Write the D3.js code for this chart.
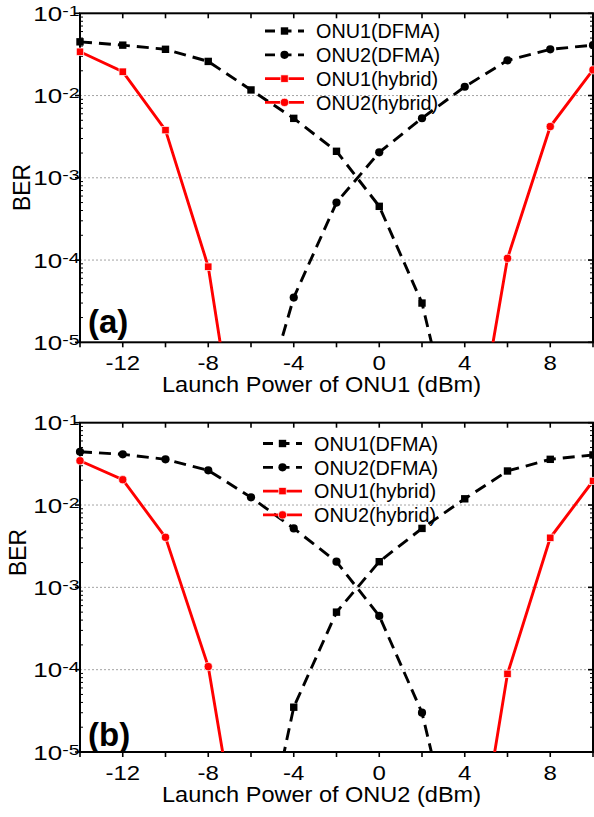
<!DOCTYPE html>
<html><head><meta charset="utf-8">
<script src="https://cdn.jsdelivr.net/npm/d3@7"></script>
<style>
body{margin:0;background:#fff}
svg{display:block}
text{font-family:"Liberation Sans",Arial,Helvetica,sans-serif;fill:#000}
</style>
</head><body>
<svg id="chart" width="594" height="817"></svg>
<script>
// ---------------- data ----------------
const xs = [-14,-12,-10,-8,-6,-4,-2,0,2,4,6,8,10];
// panel (a): launch power of ONU1
const aONU1DFMA = [0.045,0.041,0.0365,0.026,0.0117,0.00528,0.0021,0.00045,0.00003,2e-7,null,null,null];
const aONU2DFMA = [null,null,null,null,5.6e-7,3.5e-5,5.0e-4,2.04e-3,5.3e-3,0.0128,0.0268,0.0365,0.041];
const aONU1Hyb  = [0.0341,0.0195,0.0038,8.3e-5,4e-8,null,null,null,null,null,null,null,null];
const aONU2Hyb  = [null,null,null,null,null,null,null,null,null,1e-7,1.05e-4,4.2e-3,0.0205];
// panel (b): launch power of ONU2
const bONU1DFMA = [null,null,null,null,1.3e-7,3.5e-5,5.0e-4,2.05e-3,5.2e-3,0.0119,0.0259,0.0359,0.0406];
const bONU2DFMA = [0.0444,0.0413,0.0359,0.0264,0.0124,0.0052,0.00205,4.5e-4,3.0e-5,2e-7,null,null,null];
const bONU1Hyb  = [null,null,null,null,null,null,null,null,null,6e-8,8.9e-5,0.004,0.0196];
const bONU2Hyb  = [0.0345,0.0203,0.00405,1.09e-4,9e-8,null,null,null,null,null,null,null,null];

const seriesNames = ["ONU1(DFMA)","ONU2(DFMA)","ONU1(hybrid)","ONU2(hybrid)"];
const yExponents = [-1,-2,-3,-4,-5];
const gridExponents = [-2,-3,-4];
const xTickLabels = [-12,-8,-4,0,4,8];
const xTickAll = [-14,-12,-10,-8,-6,-4,-2,0,2,4,6,8,10];
const xTitles = ["Launch Power of ONU1 (dBm)","Launch Power of ONU2 (dBm)"];
const panelLetters = ["(a)","(b)"];
const yTitle = "BER";

// ---------------- layout ----------------
const panels = [
  {top:13.3, bottom:342.3, letter:panelLetters[0], letterY:333, berY:187.5, berX:30,
   legY:31, legX0:265, legX1:304, legTx:316, xTitle:xTitles[0],
   series:[
     {vals:aONU1DFMA, color:"#000", dash:true, shape:"square"},
     {vals:aONU2DFMA, color:"#000", dash:true, shape:"circle"},
     {vals:aONU1Hyb,  color:"#ff0000", dash:false, shape:"square"},
     {vals:aONU2Hyb,  color:"#ff0000", dash:false, shape:"circle"}]},
  {top:422.7, bottom:752, letter:panelLetters[1], letterY:746, berY:552.5, berX:26,
   legY:443.5, legX0:263, legX1:302, legTx:314, xTitle:xTitles[1],
   series:[
     {vals:bONU1DFMA, color:"#000", dash:true, shape:"square"},
     {vals:bONU2DFMA, color:"#000", dash:true, shape:"circle"},
     {vals:bONU1Hyb,  color:"#ff0000", dash:false, shape:"square"},
     {vals:bONU2Hyb,  color:"#ff0000", dash:false, shape:"circle"}]}
];
const L = 80, R = 593;
const svg = d3.select("#chart");

function drawMarker(g, shape, cx, cy, color){
  const red = color !== "#000";
  if(shape==="square"){
    g.append("rect").attr("x",cx-3.7).attr("y",cy-3.7).attr("width",7.4).attr("height",7.4)
     .attr("fill",color).attr("stroke",red?"#fff":"none").attr("stroke-width",0.7);
  } else {
    g.append("circle").attr("cx",cx).attr("cy",cy).attr("r",4.1)
     .attr("fill",color).attr("stroke",red?"#fff":"none").attr("stroke-width",0.7);
  }
}

panels.forEach((p,pi)=>{
  const x = d3.scaleLinear().domain([-14,10]).range([L,R]);
  const y = d3.scaleLog().domain([1e-5,1e-1]).range([p.bottom,p.top]);
  const g = svg.append("g");

  // grid
  gridExponents.forEach(e=>{
    g.append("line").attr("x1",L).attr("x2",R).attr("y1",y(Math.pow(10,e))).attr("y2",y(Math.pow(10,e)))
     .attr("stroke","#999").attr("stroke-width",0.9).attr("stroke-dasharray","2,2");
  });

  // minor y ticks
  for(let d=-5; d<=-2; d++){
    for(let m=2; m<=9; m++){
      const yy = y(m*Math.pow(10,d));
      g.append("line").attr("x1",L).attr("x2",L+3).attr("y1",yy).attr("y2",yy).attr("stroke","#000").attr("stroke-width",1);
      g.append("line").attr("x1",R).attr("x2",R-3).attr("y1",yy).attr("y2",yy).attr("stroke","#000").attr("stroke-width",1);
    }
  }
  // major y ticks
  yExponents.forEach(e=>{
    const yy = y(Math.pow(10,e));
    g.append("line").attr("x1",L-5).attr("x2",L).attr("y1",yy).attr("y2",yy).attr("stroke","#000").attr("stroke-width",1.6);
    g.append("line").attr("x1",R).attr("x2",R-5).attr("y1",yy).attr("y2",yy).attr("stroke","#000").attr("stroke-width",1.6);
    const t = g.append("text").attr("text-anchor","end")
      .attr("transform",`translate(79.5,${yy+7.5}) scale(1.3,1)`).style("font-size","20px");
    t.append("tspan").text("10");
    t.append("tspan").attr("dy",-5).style("font-size","15px").text(String(e));
  });
  // x ticks
  xTickAll.forEach(v=>{
    const xx = x(v);
    g.append("line").attr("x1",xx).attr("x2",xx).attr("y1",p.bottom).attr("y2",p.bottom+5).attr("stroke","#000").attr("stroke-width",1.6);
    g.append("line").attr("x1",xx).attr("x2",xx).attr("y1",p.top).attr("y2",p.top+5).attr("stroke","#000").attr("stroke-width",1.6);
  });
  xTickLabels.forEach(v=>{
    g.append("text").attr("text-anchor","middle")
     .attr("transform",`translate(${x(v)},${p.bottom+27.5}) scale(1.2,1)`)
     .style("font-size","20px").text(String(v));
  });

  // frame
  g.append("rect").attr("x",L).attr("y",p.top).attr("width",R-L).attr("height",p.bottom-p.top)
   .attr("fill","none").attr("stroke","#000").attr("stroke-width",2);

  // titles
  g.append("text").attr("x",162).attr("y",p.bottom+50).attr("textLength",319).attr("lengthAdjust","spacingAndGlyphs")
   .style("font-size","22px").text(p.xTitle);
  g.append("text").attr("transform",`translate(${p.berX},${p.berY}) rotate(-90)`).attr("text-anchor","middle")
   .attr("textLength",47).attr("lengthAdjust","spacingAndGlyphs").style("font-size","24px").text(yTitle);
  g.append("text").attr("x",88).attr("y",p.letterY).style("font-size","33px").style("font-weight","bold").text(p.letter);

  // clip
  const cid = "clip"+pi;
  svg.append("defs").append("clipPath").attr("id",cid).append("rect")
     .attr("x",L).attr("y",p.top).attr("width",R-L).attr("height",p.bottom-p.top);

  const line = d3.line().defined(d=>d.v!=null).x(d=>x(d.x)).y(d=>y(d.v));
  p.series.forEach(s=>{
    const pts = xs.map((xv,i)=>({x:xv, v:s.vals[i]}));
    g.append("path").attr("clip-path",`url(#${cid})`).attr("d",line(pts))
     .attr("fill","none").attr("stroke",s.color).attr("stroke-width",2.9)
     .attr("stroke-dasharray",s.dash?"12,7":null);
    pts.filter(d=>d.v!=null && d.v>=1e-5).forEach(d=>drawMarker(g,s.shape,x(d.x),y(d.v),s.color));
  });

  // legend
  p.series.forEach((s,i)=>{
    const ly = p.legY + i*23.8;
    g.append("line").attr("x1",p.legX0).attr("x2",p.legX1).attr("y1",ly).attr("y2",ly)
     .attr("stroke",s.color).attr("stroke-width",2.8).attr("stroke-dasharray",s.dash?"10,6.5":null);
    drawMarker(g,s.shape,(p.legX0+p.legX1)/2,ly,s.color);
    g.append("text").attr("x",p.legTx).attr("y",ly+7.2).style("font-size","19.8px").text(seriesNames[i]);
  });
});
</script>
</body></html>
